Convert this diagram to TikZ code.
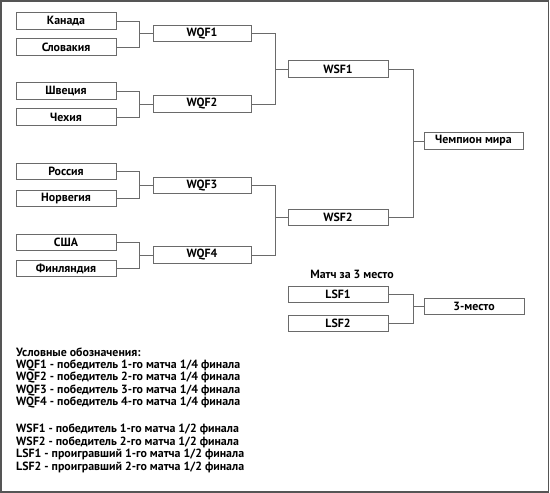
\documentclass[tikz,border=0pt]{standalone}
\usepackage{fontspec}
\setmainfont{PT Sans}
\definecolor{boxline}{HTML}{6A6A6A}
\definecolor{frameline}{HTML}{555555}
\begin{document}
\begin{tikzpicture}[x=1pt,y=-1pt,
  box/.style={draw=boxline,line width=0.9pt,minimum width=100pt,minimum height=16.5pt,inner sep=0pt,font=\fontsize{11.9}{13}\selectfont\bfseries,text=black},
  link/.style={draw=boxline,line width=0.9pt},
  legend/.style={anchor=west,inner sep=0pt,font=\fontsize{11.9}{13}\selectfont\bfseries}]
\useasboundingbox (0,0) rectangle (550,493);
\draw[frameline,line width=1.6pt] (0.8,0.8) rectangle (548.5,491.8);
% teams
\node[box] (kan) at (66,21) {Канада};
\node[box] (slo) at (66,47) {Словакия};
\node[box] (swe) at (66,91) {Швеция};
\node[box] (cze) at (66,117) {Чехия};
\node[box] (rus) at (66,171.5) {Россия};
\node[box] (nor) at (66,198.5) {Норвегия};
\node[box] (usa) at (66,242.5) {США};
\node[box] (fin) at (66,268.5) {Финляндия};
% quarterfinal winners
\node[box,minimum width=98pt] (q1) at (202,33.5) {WQF1};
\node[box,minimum width=98pt] (q2) at (202,104) {WQF2};
\node[box,minimum width=98pt] (q3) at (202,185.5) {WQF3};
\node[box,minimum width=98pt] (q4) at (202,255) {WQF4};
% semifinal winners
\node[box] (s1) at (338,69) {WSF1};
\node[box] (s2) at (338,217.5) {WSF2};
\node[box,minimum width=99pt] (ch) at (473.5,141) {Чемпион мира};
% third place
\node[inner sep=0pt,font=\fontsize{11.9}{13}\selectfont\bfseries] (t3) at (352,274) {Матч за 3 место};
\node[box] (l1) at (338,294.5) {LSF1};
\node[box] (l2) at (338,323.5) {LSF2};
\node[box] (p3) at (474,306.5) {3-место};
% connectors
\foreach \a/\b in {kan/q1,slo/q1,swe/q2,cze/q2,rus/q3,nor/q3,usa/q4,fin/q4}
  \draw[link] (\a.east) -- ++(23,0) |- (\b.west);
\foreach \a/\b in {q1/s1,q2/s1,q3/s2,q4/s2}
  \draw[link] (\a.east) -- ++(24,0) |- (\b.west);
\foreach \a/\b in {s1/ch,s2/ch,l1/p3,l2/p3}
  \draw[link] (\a.east) -- ++(24.5,0) |- (\b.west);
% legend
\node[legend] (g0) at (16,352.5) {Условные обозначения:};
\node[legend] (g1) at (16,365) {WQF1 - победитель 1-го матча 1/4 финала};
\node[legend] (g2) at (16,377.5) {WQF2 - победитель 2-го матча 1/4 финала};
\node[legend] (g3) at (16,390) {WQF3 - победитель 3-го матча 1/4 финала};
\node[legend] (g4) at (16,402.5) {WQF4 - победитель 4-го матча 1/4 финала};
\node[legend] (g5) at (16,429.5) {WSF1 - победитель 1-го матча 1/2 финала};
\node[legend] (g6) at (16,442) {WSF2 - победитель 2-го матча 1/2 финала};
\node[legend] (g7) at (16,454.5) {LSF1 - проигравший 1-го матча 1/2 финала};
\node[legend] (g8) at (16,467) {LSF2 - проигравший 2-го матча 1/2 финала};
\end{tikzpicture}
\end{document}
